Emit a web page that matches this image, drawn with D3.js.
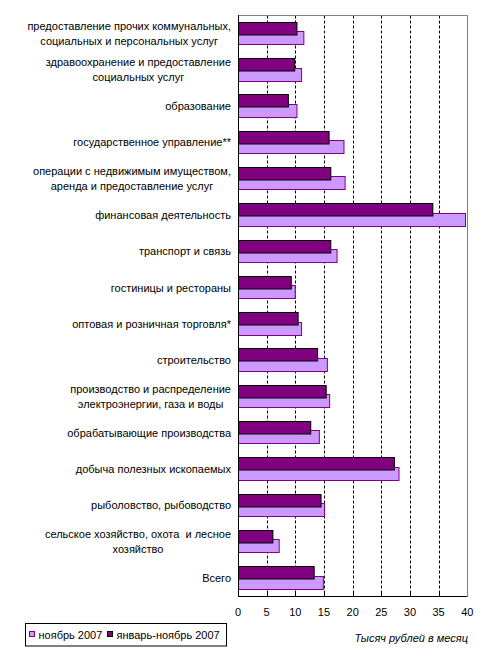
<!DOCTYPE html>
<html>
<head>
<meta charset="utf-8">
<script src="https://cdn.jsdelivr.net/npm/d3@7"></script>
<style>
  body { margin: 0; background: #fff; }
  text { font-family: "Liberation Sans", Arial, sans-serif; fill: #000; white-space: pre; }
</style>
</head>
<body>
<svg width="490" height="664"></svg>
<script>
var categories = [
  ["предоставление прочих коммунальных,", "социальных и персональных услуг"],
  ["здравоохранение и предоставление", "социальных услуг"],
  ["образование"],
  ["государственное управление**"],
  ["операции с недвижимым имуществом,", "аренда и предоставление услуг"],
  ["финансовая деятельность"],
  ["транспорт и связь"],
  ["гостиницы и рестораны"],
  ["оптовая и розничная торговля*"],
  ["строительство"],
  ["производство и распределение", "электроэнергии, газа и воды"],
  ["обрабатывающие производства"],
  ["добыча полезных ископаемых"],
  ["рыболовство, рыбоводство"],
  ["сельское хозяйство, охота  и лесное", "хозяйство"],
  ["Всего"]
];
var nov2007 = [11.4, 11.0, 10.2, 18.4, 18.6, 39.6, 17.2, 9.9, 11.0, 15.5, 15.9, 14.1, 28.0, 15.0, 7.1, 14.8];
var janNov2007 = [10.2, 9.8, 8.7, 15.8, 16.1, 33.9, 16.1, 9.2, 10.4, 13.8, 15.3, 12.6, 27.2, 14.4, 6.0, 13.2];
var xTicks = [0, 5, 10, 15, 20, 25, 30, 35, 40];
var seriesNames = ["ноябрь 2007", "январь-ноябрь 2007"];

var svg = d3.select("svg");

var x = d3.scaleLinear().domain([0, 40]).range([238, 467.3]);
var y = d3.scaleBand().domain(d3.range(categories.length)).range([15.3, 596]).padding(0);

// gridlines
svg.append("g")
  .selectAll("line")
  .data(xTicks.slice(1, -1))
  .enter().append("line")
  .attr("x1", function(d) { return Math.round(x(d)) + 0.5; })
  .attr("x2", function(d) { return Math.round(x(d)) + 0.5; })
  .attr("y1", 15.5)
  .attr("y2", 596)
  .attr("stroke", "#000")
  .attr("stroke-dasharray", "3,2");

// frame top/right
svg.append("path")
  .attr("d", "M238,15.5H467.5V596")
  .attr("fill", "none")
  .attr("stroke", "#808080");

// bars: light series first, dark on top
var bh = y.bandwidth();
svg.append("g")
  .selectAll("rect")
  .data(nov2007)
  .enter().append("rect")
  .attr("x", x(0) + 0.5)
  .attr("y", function(d, i) { return Math.round(y(i) + bh / 2 - 2.2) + 0.5; })
  .attr("width", function(d) { return x(d) - x(0); })
  .attr("height", 13)
  .attr("fill", "#CC99FF")
  .attr("stroke", "#800080");

svg.append("g")
  .selectAll("rect")
  .data(janNov2007)
  .enter().append("rect")
  .attr("x", x(0) + 0.5)
  .attr("y", function(d, i) { return Math.round(y(i) + bh / 2 - 11.7) + 0.5; })
  .attr("width", function(d) { return x(d) - x(0); })
  .attr("height", 12.5)
  .attr("fill", "#800080")
  .attr("stroke", "#000");

// axes
svg.append("line")
  .attr("x1", 238.5).attr("x2", 238.5).attr("y1", 15).attr("y2", 596.5)
  .attr("stroke", "#000");
svg.append("line")
  .attr("x1", 238).attr("x2", 467.5).attr("y1", 596.5).attr("y2", 596.5)
  .attr("stroke", "#000");

// bottom ticks (inside)
svg.append("g")
  .selectAll("line")
  .data(xTicks.slice(1, -1))
  .enter().append("line")
  .attr("x1", function(d) { return Math.round(x(d)) + 0.5; })
  .attr("x2", function(d) { return Math.round(x(d)) + 0.5; })
  .attr("y1", 593)
  .attr("y2", 596)
  .attr("stroke", "#000");

svg.append("g")
  .selectAll("text")
  .data(xTicks)
  .enter().append("text")
  .attr("x", function(d) { return x(d); })
  .attr("y", 616)
  .attr("text-anchor", "middle")
  .style("font-size", "11px")
  .text(function(d) { return d; });

svg.append("text")
  .attr("x", 468)
  .attr("y", 642)
  .attr("text-anchor", "end")
  .style("font-size", "11px")
  .style("font-style", "italic")
  .text("Тысяч рублей в месяц");

// category labels, lines centred within the block, block right-aligned
var lineH = 14.5;
categories.forEach(function(lines, i) {
  var cy = y(i) + bh / 2;
  var g = svg.append("g");
  var texts = lines.map(function(s, k) {
    return g.append("text")
      .attr("y", cy + (k - (lines.length - 1) / 2) * lineH + 4)
      .attr("text-anchor", "middle")
      .style("font-size", "11px")
      .text(s);
  });
  var w = d3.max(texts, function(t) { return t.node().getComputedTextLength(); });
  texts.forEach(function(t) { t.attr("x", 231 - w / 2); });
});

// legend
var legend = svg.append("g");
legend.append("rect")
  .attr("x", 25.5).attr("y", 623.5).attr("width", 201).attr("height", 22.5)
  .attr("fill", "#fff").attr("stroke", "#000");
var legendX = [29.5, 107.5];
var legendFill = ["#CC99FF", "#800080"];
var legendStroke = ["#800080", "#000"];
seriesNames.forEach(function(s, i) {
  legend.append("rect")
    .attr("x", legendX[i]).attr("y", 631.5).attr("width", 5).attr("height", 5)
    .attr("fill", legendFill[i]).attr("stroke", legendStroke[i]);
  legend.append("text")
    .attr("x", legendX[i] + 9)
    .attr("y", 639)
    .style("font-size", "11px")
    .text(s);
});
</script>
</body>
</html>
